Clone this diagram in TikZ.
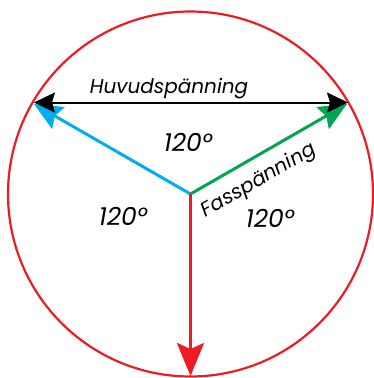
\documentclass[tikz,border=0pt]{standalone}
\usepackage{fontspec}
\setmainfont{Poppins}
\usetikzlibrary{arrows.meta}
\definecolor{phRed}{HTML}{ED1C24}
\definecolor{phBlue}{HTML}{00AEEF}
\definecolor{phGreen}{HTML}{00A651}

\begin{document}
\begin{tikzpicture}[
    x=1pt, y=-1pt,
    phasor/.style={line width=3pt},
    lbl/.style={font=\fontsize{20}{24}\selectfont\itshape, inner sep=0pt},
    deg/.style={font=\fontsize{25}{28}\selectfont\itshape, inner sep=0pt},
]
\useasboundingbox (0,0) rectangle (374,378);

% --- Circle ---
\coordinate (O) at (190.5,194);
\draw[phRed, line width=2.2pt] (O) circle[radius=182.5];

% --- Phase voltages ---
\coordinate (tipL) at (34,104);
\coordinate (tipR) at (347,104);
\coordinate (tipD) at (190.5,376);
\draw[phasor, phBlue, -{Stealth[length=28pt, width=25pt, inset=4pt]}] (O) -- (tipL);
\draw[phasor, phGreen, -{Stealth[length=28pt, width=25pt, inset=4pt]}] (O) -- (tipR);
\draw[phasor, phRed, -{Stealth[length=33pt, width=27pt, inset=6pt]}] (O) -- (tipD);

% --- Line voltage ---
\coordinate (hvL) at (34,102.5);
\coordinate (hvR) at (348,102.5);
\draw[line width=2pt, {Stealth[length=21pt, width=20pt, inset=3pt]}-{Stealth[length=21pt, width=20pt, inset=3pt]}] (hvL) -- (hvR);

% --- Labels ---
\node[lbl, anchor=base] (hv) at (169,93) {Huvudspänning};
\node[deg] (a1) at (188,142) {120°};
\node[deg] (a2) at (123,216) {120°};
\node[deg] (a3) at (270,218) {120°};
\node[lbl, rotate=30] (fs) at (259,181) {Fasspänning};

\end{tikzpicture}
\end{document}
